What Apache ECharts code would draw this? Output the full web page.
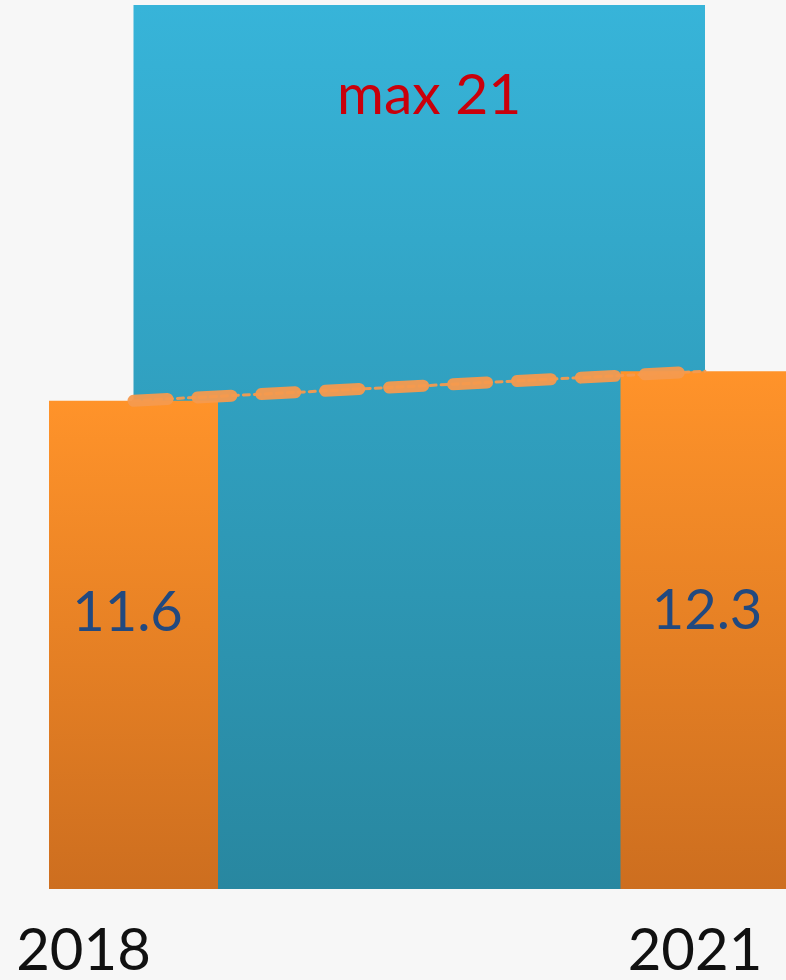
<!DOCTYPE html>
<html>
<head>
<meta charset="utf-8">
<script src="https://cdn.jsdelivr.net/npm/echarts@6/dist/echarts.min.js"></script>
<style>
  html, body { margin: 0; padding: 0; background: #f7f7f7; }
  #chart { width: 786px; height: 980px; }
</style>
</head>
<body>
<div id="chart"></div>
<script>
// Values shown on the chart
const years = ['2018', '2021'];
const barValues = [11.6, 12.3];
const maxValue = 21;

const FONT = 'Lato';

const chart = echarts.init(document.getElementById('chart'));

const orangeFill = {
  type: 'linear', x: 0, y: 0, x2: 0, y2: 1,
  colorStops: [
    { offset: 0, color: '#ff932a' },
    { offset: 1, color: '#cd6e1f' }
  ]
};

const blueFill = {
  type: 'linear', x: 0, y: 0, x2: 0, y2: 1,
  colorStops: [
    { offset: 0, color: '#37b4d9' },
    { offset: 1, color: '#2887a0' }
  ]
};

// per-bar label nudges
const labelShift = [[-6, 0], [2, -2]];

chart.setOption({
  backgroundColor: '#f7f7f7',
  animation: false,
  grid: { left: 133.5, right: 81, top: 5, bottom: 89 },
  xAxis: {
    type: 'category',
    boundaryGap: false,
    data: [
      { value: years[0], textStyle: { padding: [0, 100, 0, 0] } },
      { value: years[1], textStyle: { padding: [0, 20, 0, 0] } }
    ],
    axisLine: { show: false },
    axisTick: { show: false },
    splitLine: { show: false },
    axisLabel: {
      fontFamily: FONT,
      fontSize: 58,
      color: '#111111',
      margin: 33
    }
  },
  yAxis: {
    type: 'value',
    min: 0,
    max: maxValue,
    show: false,
    splitLine: { show: false }
  },
  series: [
    {
      type: 'bar',
      data: barValues.map((v, i) => ({ value: v, label: { offset: labelShift[i] } })),
      barWidth: 169,
      clip: false,
      z: 2,
      itemStyle: { color: orangeFill },
      label: {
        show: true,
        position: 'insideBottom',
        distance: 248,
        fontFamily: FONT,
        fontSize: 56,
        color: '#22497f'
      },
      markArea: {
        silent: true,
        z: 1,
        itemStyle: { color: blueFill, opacity: 1 },
        label: {
          show: true,
          position: 'insideTop',
          distance: 62,
          offset: [10, 0],
          fontFamily: FONT,
          fontSize: 57,
          color: '#c9000b',
          formatter: () => 'max ' + maxValue
        },
        data: [[
          { xAxis: years[0], yAxis: 0 },
          { xAxis: years[1], yAxis: maxValue }
        ]]
      }
    },
    {
      // thin dotted trace under the main trend stroke
      type: 'line',
      data: barValues,
      symbol: 'none',
      z: 3,
      silent: true,
      lineStyle: {
        width: 3,
        color: 'rgba(246,154,78,0.95)',
        type: [6, 5],
        cap: 'round'
      }
    },
    {
      type: 'line',
      data: barValues,
      symbol: 'none',
      z: 4,
      silent: true,
      lineStyle: {
        width: 12,
        color: 'rgba(246,154,78,0.95)',
        type: [34, 30],
        cap: 'round'
      }
    }
  ]
});
</script>
</body>
</html>
